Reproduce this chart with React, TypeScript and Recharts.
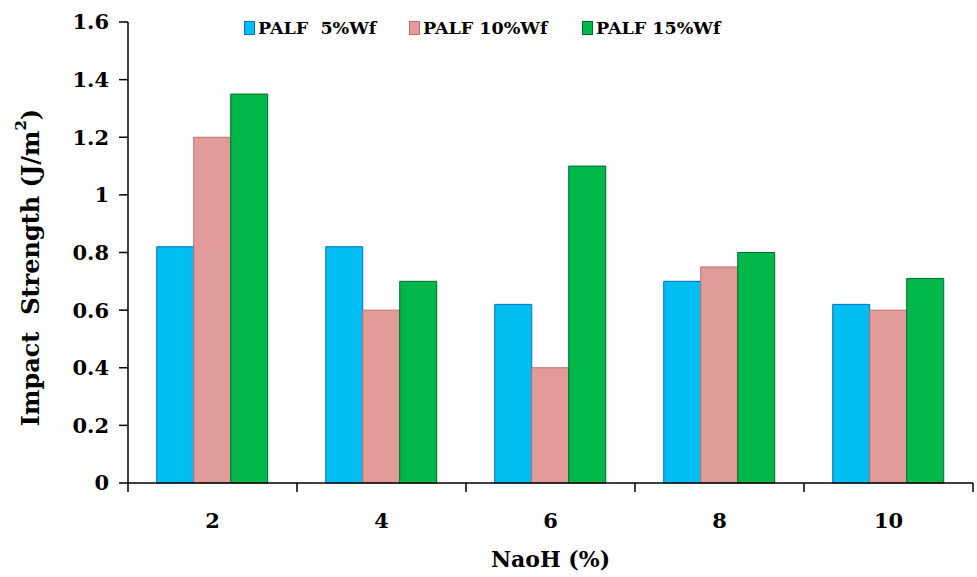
import React from "react";
import { BarChart, Bar, XAxis, YAxis, Legend } from "recharts";

const categories = ["2", "4", "6", "8", "10"];
const palf5 = [0.82, 0.82, 0.62, 0.7, 0.62];
const palf10 = [1.2, 0.6, 0.4, 0.75, 0.6];
const palf15 = [1.35, 0.7, 1.1, 0.8, 0.71];
const yTicks = [0, 0.2, 0.4, 0.6, 0.8, 1, 1.2, 1.4, 1.6];
const seriesNames = ["PALF  5%Wf", "PALF 10%Wf", "PALF 15%Wf"];

const data = categories.map((c, i) => ({
  naoh: c,
  p5: palf5[i],
  p10: palf10[i],
  p15: palf15[i],
}));

const series = [
  { key: "p5", name: seriesNames[0], fill: "#00BDF2", stroke: "#0070C0" },
  { key: "p10", name: seriesNames[1], fill: "#E29B9B", stroke: "#C07070" },
  { key: "p15", name: seriesNames[2], fill: "#00B84A", stroke: "#006B2A" },
];

const FONT = "'DejaVu Serif', 'Liberation Serif', serif";
const W = 977;
const H = 577;
const margin = { top: 22, right: 4, left: 0, bottom: 0 };
const yAxisWidth = 128;

// tick marks sit between categories, not at their centres
const XTick = (props: any) => {
  const { x, y, payload, index, visibleTicksCount } = props;
  const half = payload.offset || (W - yAxisWidth - margin.right) / categories.length / 2;
  return (
    <g>
      <line x1={x - half} y1={y} x2={x - half} y2={y + 9} stroke="#000" strokeWidth={1.5} />
      {index === visibleTicksCount - 1 && (
        <line x1={x + half} y1={y} x2={x + half} y2={y + 9} stroke="#000" strokeWidth={1.5} />
      )}
      <text x={x} y={y + 45} textAnchor="middle" fontFamily={FONT} fontWeight="bold" fontSize={21} fill="#000">
        {payload.value}
      </text>
    </g>
  );
};

const YLabel = (props: any) => {
  const vb = props.viewBox || { x: 0, y: 22, width: 128, height: 461 };
  const cx = 30;
  const cy = vb.y + vb.height / 2 + 15;
  return (
    <text
      transform={`translate(${cx},${cy}) rotate(-90)`}
      textAnchor="middle"
      dominantBaseline="central"
      fontFamily={FONT}
      fontWeight="bold"
      fontSize={24}
      fill="#000"
      style={{ whiteSpace: "pre" }}
    >
      {"Impact  Strength (J/m"}
      <tspan dy={-9} fontSize={15}>2</tspan>
      <tspan dy={9}>)</tspan>
    </text>
  );
};

const LegendContent = () => (
  <div style={{ display: "flex", fontFamily: FONT, fontWeight: "bold", fontSize: 17.5, color: "#000" }}>
    {series.map((s, i) => (
      <div key={s.key} style={{ display: "flex", alignItems: "center", width: i === 0 ? 165 : i === 1 ? 173 : "auto" }}>
        <span
          style={{
            display: "inline-block",
            width: 9,
            height: 12,
            background: s.fill,
            border: `1px solid ${s.stroke}`,
            marginRight: 3,
          }}
        />
        <span style={{ whiteSpace: "pre" }}>{s.name}</span>
      </div>
    ))}
  </div>
);

export default function App() {
  return (
    <div style={{ position: "absolute", left: 0, top: 0, background: "#fff" }}>
      <BarChart width={W} height={H} data={data} margin={margin} barGap={0} barCategoryGap="17%">
        <XAxis
          dataKey="naoh"
          height={94}
          tickLine={false}
          tickSize={0}
          tickMargin={0}
          interval={0}
          axisLine={{ stroke: "#000", strokeWidth: 1.5 }}
          tick={<XTick />}
          label={{
            value: "NaoH (%)",
            position: "insideBottom",
            offset: 10,
            style: { fontFamily: FONT, fontWeight: "bold", fontSize: 22, fill: "#000" },
          }}
        />
        <YAxis
          width={yAxisWidth}
          domain={[0, 1.6]}
          ticks={yTicks}
          interval={0}
          tickSize={9}
          tickMargin={10}
          axisLine={{ stroke: "#000", strokeWidth: 1.5 }}
          tickLine={{ stroke: "#000", strokeWidth: 1.5 }}
          tick={{ fontFamily: FONT, fontWeight: "bold", fontSize: 21, fill: "#000" }}
          label={{ content: <YLabel /> }}
        />
        <Legend
          verticalAlign="middle"
          layout="horizontal"
          content={<LegendContent />}
          wrapperStyle={{ top: 18, left: 244, width: 720 }}
        />
        {series.map((s) => (
          <Bar
            key={s.key}
            dataKey={s.key}
            name={s.name}
            fill={s.fill}
            stroke={s.stroke}
            strokeWidth={1}
            isAnimationActive={false}
          />
        ))}
      </BarChart>
    </div>
  );
}
